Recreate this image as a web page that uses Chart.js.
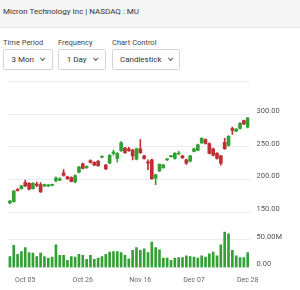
<!DOCTYPE html>
<html>
<head>
<meta charset="utf-8">
<script src="https://cdn.jsdelivr.net/npm/chart.js@4.4.0/dist/chart.umd.min.js"></script>
<style>
  body { margin: 0; width: 300px; height: 290px; background: #fff; font-family: Roboto, "Noto Sans", sans-serif; overflow: hidden; position: relative; }
  .head { position: absolute; left: 0; top: 0; width: 300px; height: 27px; background: #f5f5f5; border-bottom: 1px solid #e4e4e4; }
  .head span { position: absolute; left: 3px; top: 7px; font-size: 8px; color: #333; }
  .ctl { position: absolute; top: 38px; }
  .ctl .lbl { font-size: 7.5px; color: #444; height: 11px; }
  .ctl .box { border: 1px solid #d6d6d6; border-radius: 2px; height: 21px; box-sizing: border-box; font-size: 8px; color: #333; display: flex; align-items: center; justify-content: center; }
  .chev { display: inline-block; width: 2.5px; height: 2.5px; border-right: 1px solid #555; border-bottom: 1px solid #555; transform: rotate(45deg); margin-left: 7px; margin-top: -3px; }
  #wrap { position: absolute; left: 0; top: 70px; width: 300px; height: 226px; }
</style>
</head>
<body>
<div class="head"><span>Micron Technology Inc | NASDAQ : MU</span></div>
<div class="ctl" style="left:3px"><div class="lbl">Time Period</div><div class="box" style="width:50px">3 Mon<i class="chev"></i></div></div>
<div class="ctl" style="left:58px"><div class="lbl">Frequency</div><div class="box" style="width:48px">1 Day<i class="chev"></i></div></div>
<div class="ctl" style="left:112px"><div class="lbl">Chart Control</div><div class="box" style="width:68px">Candlestick<i class="chev"></i></div></div>
<div id="wrap"><canvas id="chart"></canvas></div>
<script>
const dates = ['Sep 29','Sep 30','Oct 01','Oct 02',
  'Oct 05','Oct 06','Oct 07','Oct 08','Oct 09','Oct 12','Oct 13','Oct 14','Oct 15','Oct 16',
  'Oct 19','Oct 20','Oct 21','Oct 22','Oct 23','Oct 26','Oct 27','Oct 28','Oct 29','Oct 30',
  'Nov 02','Nov 03','Nov 04','Nov 05','Nov 06','Nov 09','Nov 10','Nov 11','Nov 12','Nov 13',
  'Nov 16','Nov 17','Nov 18','Nov 19','Nov 20','Nov 23','Nov 24','Nov 25','Nov 27','Nov 30',
  'Dec 01','Dec 02','Dec 03','Dec 04','Dec 07','Dec 08','Dec 09','Dec 10','Dec 11',
  'Dec 14','Dec 15','Dec 16','Dec 17','Dec 18','Dec 21','Dec 22','Dec 23','Dec 24','Dec 28'];
const xTicks = ['Oct 05', 'Oct 26', 'Nov 16', 'Dec 07', 'Dec 28'];

const opens  = [164,166,185,186,195,194,186,193,192,190,190,191,198,199,210,204,203,196,211,224,218,229,226,228,234,222,225,240,232,244,248,247,245,231,247,
                236,227,230,202,213,218,230,235,232,239,236,230,228,243,245,256,261,255,247,240,236,257,252,278,274,278,290,280];
const highs  = [168,183,186,191,199,195,195,196,195,193,192,193,204,203,215,205,204,207,220,225,221,230,227,229,236,223,238,245,241,258,249,249,246,248,261,
                237,230,231,208,224,223,232,237,241,243,237,231,237,248,254,264,262,256,248,241,237,263,267,280,278,287,291,295];
const lows   = [163,165,182,185,189,184,185,189,180,189,189,190,196,198,205,200,196,195,210,216,217,225,221,220,233,215,224,237,227,243,240,243,230,230,240,
                231,215,200,192,212,217,229,234,231,238,232,223,227,242,244,255,254,239,236,231,222,246,251,269,273,277,284,279];
const closes = [167,182,183,190,190,185,194,191,181,192,190.5,191.5,202,201,206,201,197,206,219,217,220,226,222,221,235,216,237,242,240,256,241,244,236,247,241,
                232,225,201,207,223,222,231,236,240,240,233,225,236,247,253,263,255,240,237,232,225,247,266,275,277,286,285,294];
const volumes = [20,40,24,29,36,27,26,20,26,20,17,19,41,22,22,13,20,19,24,22,15,22,15,17,20,24,28,29,29,27,22,16,31,36,31,
                 34,27,46,36,32,17,17,13,17,18,18,21,20,19,17,21,19,25,28,21,41,64,61,31,21,18,18,27];

const priceTicks = [150, 200, 250, 300, 350];
const volumeTicks = [0, 50, 100];

const up = '#32a032';
const down = '#bf2f33';
const colors = opens.map((o, i) => closes[i] >= o ? up : down);

const ctx = document.getElementById('chart').getContext('2d');
const chart = new Chart(ctx, {
  data: {
    labels: dates,
    datasets: [
      {
        type: 'bar',
        label: 'wick',
        data: lows.map((l, i) => [l, highs[i]]),
        backgroundColor: colors,
        barThickness: 1,
        grouped: false,
        yAxisID: 'y'
      },
      {
        type: 'bar',
        label: 'body',
        data: opens.map((o, i) => [o, closes[i]]),
        backgroundColor: colors,
        barThickness: 3,
        minBarLength: 1,
        grouped: false,
        yAxisID: 'y'
      },
      {
        type: 'bar',
        label: 'volume',
        data: volumes,
        backgroundColor: up,
        barThickness: 2,
        grouped: false,
        yAxisID: 'yv'
      }
    ]
  },
  options: {
    responsive: true,
    maintainAspectRatio: false,
    animation: false,
    layout: { padding: { top: 0, left: 8, right: 11, bottom: 4 } },
    plugins: { legend: { display: false }, tooltip: { enabled: false } },
    scales: {
      x: {
        type: 'category',
        offset: true,
        grid: { display: false, drawTicks: false },
        border: { display: false },
        ticks: {
          autoSkip: false,
          maxRotation: 0,
          padding: 8,
          font: { family: 'Roboto', size: 7 },
          color: '#666',
          callback: (v, i) => xTicks.includes(dates[i]) ? dates[i] : ''
        }
      },
      y: {
        position: 'right',
        stack: 'pane',
        stackWeight: 134,
        min: 150,
        max: 350,
        afterBuildTicks: (s) => { s.ticks = priceTicks.map(v => ({ value: v })); },
        grid: { color: '#ececec', drawTicks: false },
        border: { display: false },
        ticks: {
          padding: 7,
          labelOffset: -3,
          font: { family: 'Roboto', size: 7.5 },
          color: '#555',
          callback: (v) => v === 350 ? '' : v.toFixed(2)
        }
      },
      yv: {
        position: 'right',
        stack: 'pane',
        stackWeight: 57,
        min: 0,
        max: 100,
        afterBuildTicks: (s) => { s.ticks = volumeTicks.map(v => ({ value: v })); },
        grid: { color: (c) => c.tick && c.tick.value === 100 ? 'rgba(0,0,0,0)' : '#ececec', drawTicks: false },
        border: { display: false },
        ticks: {
          padding: 7,
          labelOffset: -3,
          font: { family: 'Roboto', size: 7.5 },
          color: '#555',
          callback: (v) => v === 100 ? '' : (v === 0 ? '0.00' : v.toFixed(2) + 'M')
        }
      }
    }
  }
});
</script>
</body>
</html>
